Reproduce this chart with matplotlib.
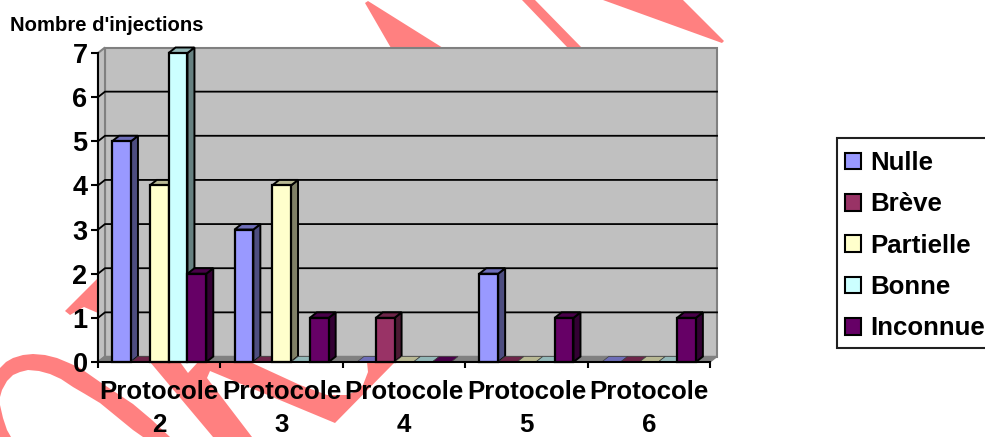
import matplotlib
matplotlib.use("Agg")
import matplotlib.pyplot as plt
from matplotlib.patches import Polygon, Rectangle
from matplotlib.colors import to_rgb

plt.rcParams['font.family'] = ['Liberation Sans', 'DejaVu Sans']
plt.rcParams['font.weight'] = 'bold'

categories = ['Protocole\n2', 'Protocole\n3', 'Protocole\n4', 'Protocole\n5', 'Protocole\n6']
nulle = [5, 3, 0, 2, 0]
breve = [0, 0, 1, 0, 0]
partielle = [4, 4, 0, 0, 0]
bonne = [7, 0, 0, 0, 0]
inconnue = [2, 1, 0, 1, 1]
series_names = ['Nulle', 'Brève', 'Partielle', 'Bonne', 'Inconnue']
series_values = [nulle, breve, partielle, bonne, inconnue]
series_colors = ['#9999FF', '#993366', '#FFFFCC', '#CCFFFF', '#660066']
y_ticks = [0, 1, 2, 3, 4, 5, 6, 7]

W, H = 985, 437
PINK = '#FF8080'
fig = plt.figure(figsize=(W / 100, H / 100), dpi=100, facecolor='white')

# Pale red strokes of the page background, in pixel coordinates
bg = fig.add_axes([0, 0, 1, 1], zorder=-1)
bg.set_xlim(0, W)
bg.set_ylim(H, 0)
bg.axis('off')
strokes = [
    [(365, 3), (368, 1), (443, 48), (391, 48)],
    [(522, 0), (535, 0), (582, 48), (568, 48)],
    [(603, 0), (683, 0), (724, 41), (722, 43)],
    [(65, 311), (70, 315), (84, 307), (98, 313), (98, 278)],
    [(0, 368), (6, 362), (13, 358), (23, 355), (33, 354), (45, 355), (57, 358), (69, 363),
     (80, 368), (100, 382), (133, 404), (152, 420), (170, 437), (143, 437), (133, 430),
     (100, 403), (85, 394), (73, 387), (61, 379), (50, 374), (39, 371), (28, 370),
     (20, 372), (13, 375), (7, 381), (2, 390), (0, 397)],
    [(0, 405), (3, 418), (7, 430), (11, 437), (0, 437)],
    [(150, 362), (213, 437), (252, 437), (207, 378), (210, 371), (335, 423), (395, 362),
     (367, 362), (368, 372), (363, 385), (356, 391), (347, 395), (327, 395), (300, 385),
     (250, 362), (198, 362), (188, 373), (180, 362)],
]
for pts in strokes:
    bg.add_patch(Polygon(pts, closed=True, facecolor=PINK, edgecolor='none'))

# Front plane of the 3D plot
ax = fig.add_axes([98 / W, 1 - 362 / H, 612 / W, 309 / H])
ax.patch.set_visible(False)
ax.set_xlim(0, len(categories))
ax.set_ylim(0, 7)

# Depth of the plot expressed in data units
DX = 7 / (612 / len(categories))
DY = 5.5 / (309 / 7)


def shade(color, factor):
    r, g, b = to_rgb(color)
    return (r * factor, g * factor, b * factor)


def face(pts, color, edge='black', lw=1.0, z=3):
    ax.add_patch(Polygon(pts, closed=True, facecolor=color, edgecolor=edge,
                         linewidth=lw, zorder=z, clip_on=False, joinstyle='miter'))


xmax = len(categories)
ymax = y_ticks[-1]
GREY = '#808080'
# Back wall, side wall, floor
face([(DX, DY), (xmax + DX, DY), (xmax + DX, ymax + DY), (DX, ymax + DY)], '#C0C0C0', GREY, 1.5, 1)
face([(0, 0), (DX, DY), (DX, ymax + DY), (0, ymax)], '#C0C0C0', GREY, 1.5, 1)
face([(0, 0), (xmax, 0), (xmax + DX, DY), (DX, DY)], GREY, GREY, 1.0, 1)

# Gridlines run along the back wall and down the side wall
for v in y_ticks[1:-1]:
    ax.plot([0, DX, xmax + DX], [v, v + DY, v + DY], color='black', lw=1.3,
            zorder=1.5, clip_on=False, solid_joinstyle='miter')

n = len(series_names)
bar_w = 1 / 6.5
gap = 0.75 * bar_w
for i, (values, color) in enumerate(zip(series_values, series_colors)):
    for j, v in enumerate(values):
        x0 = j + gap + i * bar_w
        x1 = x0 + bar_w
        # Painted left to right so neighbours overlap the way solid columns do
        z = 3 + 0.01 * (j * n + i)
        if v:
            face([(x1, 0), (x1 + DX, DY), (x1 + DX, v + DY), (x1, v)], shade(color, 0.5),
                 'black', 1.4, z)
        face([(x0, v), (x1, v), (x1 + DX, v + DY), (x0 + DX, v + DY)], shade(color, 0.72),
             'black' if v else '#404040', 1.4 if v else 0.5, z)
        if v:
            ax.bar(x0, v, bar_w, align='edge', color=color, edgecolor='black',
                   linewidth=1.6, zorder=z, clip_on=False)

# Axes, ticks and labels
for side in ('top', 'right'):
    ax.spines[side].set_visible(False)
for side in ('left', 'bottom'):
    ax.spines[side].set_linewidth(1.5)
    ax.spines[side].set_zorder(6)
ax.set_yticks(y_ticks)
ax.set_xticks(range(len(categories) + 1))
ax.set_xticklabels([])
ax.set_xticks([k + 0.5 for k in range(len(categories))], minor=True)
ax.set_xticklabels(categories, minor=True, fontsize=18.6, fontweight='bold', linespacing=1.47)
ax.tick_params(axis='x', which='minor', length=0, pad=13)
ax.tick_params(axis='x', which='major', length=4, width=1.5)
ax.tick_params(axis='y', length=5, width=1.5, pad=2.5, labelsize=19.5)

fig.text(10 / W, 1 - 31 / H, "Nombre d'injections", fontsize=14.6, fontweight='bold', color='black')

# Legend box runs off the right edge of the page
fig.add_artist(Rectangle((837 / W, 1 - 348 / H), 160 / W, 210 / H, transform=fig.transFigure,
                         facecolor='white', edgecolor='#202020', linewidth=1.5))
handles = [plt.Rectangle((0, 0), 1, 1, facecolor=c, edgecolor='black', linewidth=1.5)
           for c in series_colors]
leg = fig.legend(handles, series_names, loc='upper left',
                 bbox_to_anchor=(840 / W, 1 - 146 / H), bbox_transform=fig.transFigure,
                 borderaxespad=0, fontsize=18.6, frameon=False, handlelength=0.62,
                 handleheight=0.62, handletextpad=0.36, labelspacing=0.67, borderpad=0.2)
leg.set_zorder(5)

fig.savefig('out.png', dpi=100)
